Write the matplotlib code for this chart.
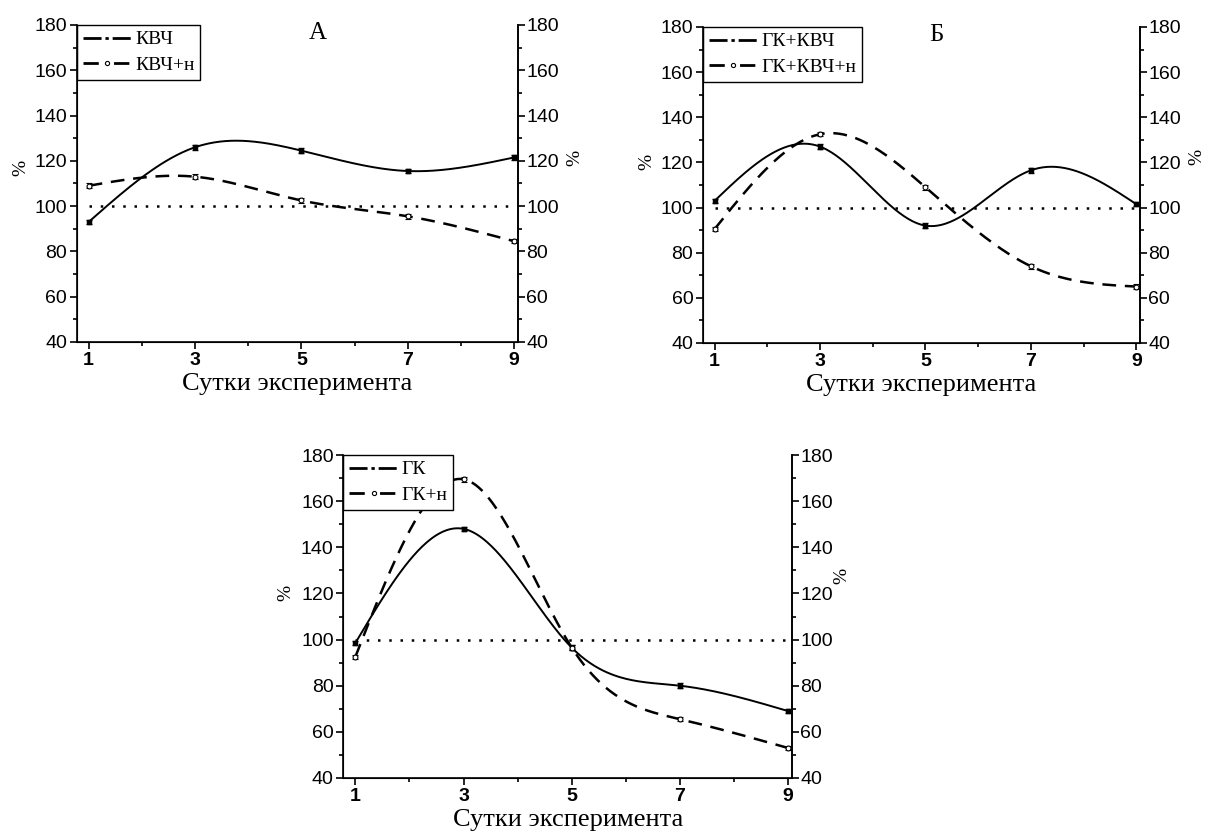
import numpy as np
import matplotlib.pyplot as plt
from matplotlib.lines import Line2D
from matplotlib.ticker import MultipleLocator

# data
days = [1, 3, 5, 7, 9]
kvch = [93, 126, 124.5, 115.5, 121.5]
kvch_n = [109, 113, 102.5, 95.5, 84.5]
gk_kvch = [103, 127, 92, 116.5, 101.5]
gk_kvch_n = [90.5, 132.5, 109, 74, 65]
gk = [98.5, 148, 96.5, 80, 69]
gk_n = [92.5, 169.5, 96.5, 65.5, 53]
err = [1, 1, 1, 1, 1]
control = [100, 100]
control_x = [1, 9]

serif = "Liberation Serif"
sans = "Liberation Sans"


def natural_spline(x, y, n=300):
    x = np.asarray(x, float)
    y = np.asarray(y, float)
    m = len(x)
    h = np.diff(x)
    A = np.zeros((m, m))
    b = np.zeros(m)
    A[0, 0] = 1
    A[-1, -1] = 1
    for i in range(1, m - 1):
        A[i, i - 1] = h[i - 1]
        A[i, i] = 2 * (h[i - 1] + h[i])
        A[i, i + 1] = h[i]
        b[i] = 3 * ((y[i + 1] - y[i]) / h[i] - (y[i] - y[i - 1]) / h[i - 1])
    c = np.linalg.solve(A, b)
    xs = np.linspace(x[0], x[-1], n)
    idx = np.clip(np.searchsorted(x, xs) - 1, 0, m - 2)
    dx = xs - x[idx]
    hi = h[idx]
    bb = (y[idx + 1] - y[idx]) / hi - hi * (2 * c[idx] + c[idx + 1]) / 3
    dd = (c[idx + 1] - c[idx]) / (3 * hi)
    ys = y[idx] + bb * dx + c[idx] * dx ** 2 + dd * dx ** 3
    return xs, ys


def panel(rect, y1, y2, names, title, tx, lpos, rpos):
    ax = fig.add_axes(rect)
    xs, ys = natural_spline(days, y1)
    ax.plot(xs, ys, color="k", lw=1.4)
    xs, ys = natural_spline(days, y2)
    ax.plot(xs, ys, color="k", lw=1.8, ls=(0, (5.5, 3.5)))
    ax.errorbar(days, y1, yerr=err, fmt="s", ms=3, color="k", mfc="k",
                capsize=2.5, elinewidth=1, capthick=1)
    ax.errorbar(days, y2, yerr=err, fmt="o", ms=3.5, color="k", mfc="white",
                mew=0.8, capsize=2.5, elinewidth=1, capthick=1)
    ax.plot(control_x, control, color="k", lw=1.8, ls=(0, (1, 3.5)))

    ax.set_xlim(0.78, 9.07)
    ax.set_ylim(40, 180)
    ax.set_xticks(days)
    ax.xaxis.set_minor_locator(MultipleLocator(1))
    ax.yaxis.set_major_locator(MultipleLocator(20))
    ax.yaxis.set_minor_locator(MultipleLocator(10))
    ax.tick_params(which="major", direction="out", length=5, width=1.2,
                   labelsize=14, pad=2)
    ax.tick_params(which="minor", direction="out", length=3, width=1.2)
    ax.tick_params(axis="y", right=True, which="both")
    for t in ax.get_xticklabels():
        t.set_fontweight("bold")
        t.set_fontfamily(sans)
    for t in ax.get_yticklabels():
        t.set_fontfamily(sans)
    for s in ax.spines.values():
        s.set_linewidth(1.2)
    ax.spines["top"].set_visible(False)

    ax.set_ylabel("%", fontfamily=serif, fontsize=14)
    ax.yaxis.set_label_coords(lpos[0], lpos[1])
    ax.set_xlabel("Сутки эксперимента", fontfamily=serif, fontsize=19,
                  labelpad=3)

    ax2 = ax.twinx()
    ax2.set_ylim(40, 180)
    ax2.yaxis.set_major_locator(MultipleLocator(20))
    ax2.yaxis.set_minor_locator(MultipleLocator(10))
    ax2.tick_params(which="major", direction="out", length=5, width=1.2,
                    labelsize=14, pad=1)
    ax2.tick_params(which="minor", direction="out", length=3, width=1.2)
    for t in ax2.get_yticklabels():
        t.set_fontfamily(sans)
    ax2.spines["top"].set_visible(False)
    ax2.spines["right"].set_linewidth(1.2)
    ax2.set_ylabel("%", fontfamily=serif, fontsize=14)
    ax2.yaxis.set_label_coords(rpos[0], rpos[1])

    if title:
        ax.text(tx, 1.01, title, transform=ax.transAxes, ha="center",
                va="top", fontfamily=serif, fontsize=18)

    h1 = Line2D([], [], color="k", lw=2, ls=(0, (6.5, 1.4, 1.2, 1.4, 6.5, 10)))
    h2 = Line2D([], [], color="k", lw=2, ls=(0, (5.5, 5.5)), marker="o",
                ms=3, mfc="white", mew=0.8)
    leg = ax.legend([h1, h2], names, loc="upper left", bbox_to_anchor=(0, 1.0),
                    borderaxespad=0, fancybox=False, framealpha=1,
                    edgecolor="k", handlelength=2.5, handletextpad=0.2,
                    borderpad=0.3, labelspacing=0.4, numpoints=1,
                    prop={"family": serif, "size": 14})
    leg.get_frame().set_linewidth(1)
    return ax


fig = plt.figure(figsize=(12.08, 8.38), dpi=100)
panel([0.0637, 0.5919, 0.3650, 0.3783], kvch, kvch_n,
      ["КВЧ", "КВЧ+н"], "А", 0.546, (-0.109, 0.55), (1.111, 0.58))
panel([0.582, 0.5907, 0.3617, 0.3771], gk_kvch, gk_kvch_n,
      ["ГК+КВЧ", "ГК+КВЧ+н"], "Б", 0.535, (-0.108, 0.573), (1.11, 0.59))
panel([0.2843, 0.0716, 0.3713, 0.3854], gk, gk_n,
      ["ГК", "ГК+н"], None, 0.5, (-0.109, 0.573), (1.092, 0.625))

fig.savefig("out.png", dpi=100)
